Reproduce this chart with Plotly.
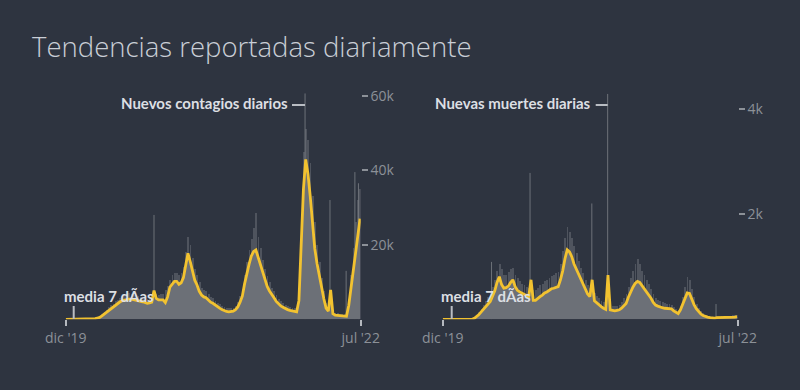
import plotly.graph_objects as go
import pandas as pd

# ---------------- data (weekly readings, Jan 2020 -> Jun 2022) ----------------
week_dates = pd.date_range("2020-01-01", periods=131, freq="7D")

# 7-day average of new cases (thousands)
cases_avg_k = [0]*11 + [
    0.05, 0.1, 0.2, 0.35, 0.5, 0.9, 1.4, 1.9, 2.4, 2.9,
    3.3, 3.8, 4.2, 4.7, 5.0, 5.2, 5.3, 5.4, 5.4, 5.3,
    5.2, 5.0, 4.9, 4.7, 4.5, 4.3, 4.4, 4.6, 7.7, 5.6,
    5.2, 5.3, 5.2, 4.5, 6.0, 8.6, 9.5, 10.2, 10.2, 9.4,
    9.8, 11.2, 14.5, 17.7, 15.5, 13.0, 10.5, 9.2, 7.5, 6.5,
    6.0, 5.8, 5.2, 4.6, 4.3, 3.8, 3.3, 3.0, 2.6, 2.3,
    2.1, 2.0, 2.0, 2.2, 2.6, 3.3, 4.6, 6.2, 9.5, 12.4,
    14.8, 17.0, 18.2, 18.6, 16.5, 14.6, 12.5, 10.3, 8.8, 7.6,
    6.5, 5.8, 4.8, 4.1, 3.6, 3.2, 2.8, 2.6, 2.4, 2.2,
    2.1, 2.0, 5.0, 20.0, 35.0, 42.9, 39.0, 33.0, 25.0, 19.0,
    15.0, 11.5, 8.0, 5.5, 3.0, 2.2, 7.9, 1.5, 1.1, 1.0,
    0.9, 0.8, 0.7, 0.8, 3.7, 8.4, 13.4, 18.3, 22.6, 27.0,
]
# upper edge of the daily case bars (thousands)
cases_daily_k = [0]*11 + [
    0.1, 0.2, 0.35, 0.6, 0.9, 1.4, 2.0, 2.6, 3.2, 3.8,
    4.2, 4.8, 5.3, 5.8, 6.2, 6.5, 6.8, 7.0, 6.9, 6.6,
    6.4, 6.3, 6.1, 5.9, 5.6, 5.4, 5.6, 6.0, 6.5, 6.7,
    6.6, 6.8, 6.9, 7.8, 9.0, 10.5, 11.8, 12.4, 12.5, 12.0,
    12.5, 14.0, 18.0, 22.0, 20.0, 16.5, 13.5, 12.0, 10.0, 8.5,
    7.8, 7.5, 6.8, 6.0, 5.6, 5.0, 4.5, 4.1, 3.6, 3.2,
    3.0, 2.9, 2.9, 3.1, 3.6, 4.6, 6.2, 8.2, 12.0, 15.5,
    18.5, 21.5, 24.5, 28.5, 22.0, 19.0, 16.0, 13.5, 11.5, 10.0,
    8.5, 7.6, 6.4, 5.5, 4.8, 4.3, 3.8, 3.5, 3.2, 3.0,
    2.9, 2.8, 8.0, 28.0, 45.0, 51.0, 48.0, 42.0, 33.0, 26.0,
    20.0, 15.5, 11.0, 7.5, 4.5, 3.0, 3.0, 2.2, 1.8, 1.6,
    1.5, 1.4, 1.3, 1.6, 5.5, 12.0, 19.0, 26.0, 32.0, 35.0,
]
case_spike_dates = ["2020-09-30", "2022-01-10", "2022-03-28", "2022-05-17", "2022-06-13", "2022-06-24"]
case_spike_values = [28000, 60600, 32000, 13000, 39500, 36500]

# 7-day average of new deaths
deaths_avg = [0]*14 + [
    20, 50, 90, 140, 190, 240, 290,
    340, 440, 540, 700, 810, 660, 590, 600, 630, 700,
    750, 620, 550, 520, 500, 470, 450, 430, 750, 360,
    360, 400, 430, 460, 500, 520, 550, 580, 590, 610,
    620, 750, 920, 1150, 1320, 1280, 1190, 1050, 950, 850,
    750, 660, 550, 480, 430, 750, 350, 310, 270, 240,
    210, 190, 840, 180, 170, 160, 170, 180, 210, 260,
    300, 420, 520, 610, 680, 720, 700, 640, 600, 530,
    480, 400, 320, 270, 250, 230, 220, 210, 210, 200,
    200, 160, 130, 110, 180, 290, 420, 500, 490, 380,
    280, 200, 140, 100, 70, 50, 40, 30, 20, 20,
    30, 30, 30, 30, 30, 30, 30, 40, 40, 50,
]
# upper edge of the daily death bars
deaths_daily = [0]*14 + [
    40, 80, 140, 200, 270, 340, 420,
    500, 620, 750, 920, 1050, 950, 850, 850, 900, 950,
    980, 850, 780, 720, 680, 650, 620, 600, 600, 550,
    550, 600, 650, 680, 720, 750, 780, 820, 850, 880,
    900, 1050, 1300, 1550, 1750, 1650, 1550, 1400, 1250, 1100,
    980, 880, 750, 660, 600, 550, 500, 450, 400, 350,
    320, 300, 280, 270, 260, 250, 260, 280, 320, 400,
    480, 620, 780, 920, 1050, 1150, 1050, 920, 850, 750,
    680, 580, 480, 400, 370, 340, 320, 310, 300, 290,
    280, 240, 200, 170, 250, 420, 620, 800, 750, 580,
    420, 300, 220, 160, 120, 90, 70, 60, 50, 50,
    60, 60, 60, 60, 60, 70, 70, 80, 80, 90,
]
death_spike_dates = ["2020-05-31", "2020-09-27", "2021-04-06", "2021-05-25", "2022-04-25"]
death_spike_values = [1090, 2780, 2200, 4280, 290]

x_ticks = ["2020-01-01", "2022-07-01"]
x_tick_text = ["dic '19", "jul '22"]
case_ticks = [20000, 40000, 60000]
case_tick_text = ["20k", "40k", "60k"]
death_ticks = [2000, 4000]
death_tick_text = ["2k", "4k"]

# ---------------- styling ----------------
BG = "#2e3440"
GRAY = "#6c7077"
GRAY_T = "rgba(112,116,123,0.5)"
YELLOW = "#f2c230"
TICK = "#8c9198"
LABEL = "#dcdfe3"
W, H = 800, 390


def px(x):
    return x / W


def py(y):
    return 1 - y / H


cases_avg = [v * 1000 for v in cases_avg_k]
cases_daily = [v * 1000 for v in cases_daily_k]
week_ms = 7 * 24 * 3600 * 1000

fig = go.Figure()


def add_panel(xa, ya, daily, avg, sd, sv):
    sx, sy = [], []
    for d, v in zip(sd, sv):
        sx += [d, d, None]
        sy += [0, v, None]
    fig.add_trace(go.Scatter(x=sx, y=sy, mode="lines", line=dict(color="rgba(120,124,131,0.85)", width=1),
                             xaxis=xa, yaxis=ya, hoverinfo="skip"))
    fig.add_trace(go.Bar(x=week_dates, y=daily, width=week_ms * 0.8, marker=dict(color=GRAY_T, line=dict(width=0)),
                         xaxis=xa, yaxis=ya, hoverinfo="skip"))
    fig.add_trace(go.Scatter(x=week_dates, y=avg, mode="lines", line=dict(width=0), fill="tozeroy",
                             fillcolor=GRAY, xaxis=xa, yaxis=ya, hoverinfo="skip"))
    fig.add_trace(go.Scatter(x=week_dates, y=avg, mode="lines", line=dict(color=YELLOW, width=2.8),
                             xaxis=xa, yaxis=ya, hoverinfo="skip"))


add_panel("x", "y", cases_daily, cases_avg, case_spike_dates, case_spike_values)
add_panel("x2", "y2", deaths_daily, deaths_avg, death_spike_dates, death_spike_values)

ydom = [py(319.3), py(88)]
tick_font = dict(family="Open Sans", size=14, color=TICK)
xaxis_common = dict(type="date", range=["2020-01-01", "2022-07-01"], tickvals=x_ticks, ticktext=x_tick_text,
                    ticks="outside", ticklen=6, tickwidth=1.5, tickcolor="#b5b9bf", showgrid=False,
                    zeroline=False, showline=False, tickfont=tick_font, fixedrange=True, automargin=False)
yaxis_common = dict(side="right", ticks="outside", ticklen=6, tickwidth=1.5, tickcolor=TICK, showgrid=False,
                    zeroline=False, showline=False, tickfont=tick_font, fixedrange=True, automargin=False)

fig.update_layout(
    template="none",
    width=W, height=H, autosize=False,
    margin=dict(l=0, r=0, t=0, b=0, pad=0, autoexpand=False),
    paper_bgcolor=BG, plot_bgcolor=BG,
    showlegend=False, barmode="overlay", bargap=0,
    xaxis=dict(domain=[px(65.7), px(360.7)], anchor="y", **xaxis_common),
    yaxis=dict(domain=ydom, anchor="x", range=[0, 62060], tickvals=case_ticks, ticktext=case_tick_text,
               **yaxis_common),
    xaxis2=dict(domain=[px(442.7), px(737.7)], anchor="y2", **xaxis_common),
    yaxis2=dict(domain=ydom, anchor="x2", range=[0, 4393], tickvals=death_ticks, ticktext=death_tick_text,
                **yaxis_common),
)

label_font = dict(family="Lato", size=15, color=LABEL, weight="bold")
annotations = [
    dict(text="Tendencias reportadas diariamente", x=px(30), y=py(46.7), xanchor="left", yanchor="middle",
         font=dict(family="Open Sans", size=27.5, color="#c9ced6", weight=300)),
    dict(text="Nuevos contagios diarios", x=px(290), y=py(103.3), xanchor="right", yanchor="middle", font=label_font),
    dict(text="Nuevas muertes diarias", x=px(593.3), y=py(103.3), xanchor="right", yanchor="middle", font=label_font),
    dict(text="media 7 dÃ\u00adas", x=px(62), y=py(296), xanchor="left", yanchor="middle", font=label_font),
    dict(text="media 7 dÃ\u00adas", x=px(439), y=py(296), xanchor="left", yanchor="middle", font=label_font),
]
for a in annotations:
    a.update(xref="paper", yref="paper", showarrow=False)
fig.update_layout(annotations=annotations)

shape_line = dict(color="#b9bdc3", width=2)
shapes = [
    dict(type="line", x0=px(292), x1=px(305), y0=py(105), y1=py(105)),
    dict(type="line", x0=px(595.7), x1=px(607.7), y0=py(105), y1=py(105)),
    dict(type="line", x0=px(73.7), x1=px(73.7), y0=py(306), y1=py(319)),
    dict(type="line", x0=px(451.7), x1=px(451.7), y0=py(306), y1=py(319)),
]
for s in shapes:
    s.update(xref="paper", yref="paper", line=shape_line)
fig.update_layout(shapes=shapes)

fix_page = (
    "document.body.style.margin='0';document.body.style.padding='0';"
    "document.body.style.overflow='hidden';"
    "document.body.style.background='" + BG + "';"
)
fig.write_html("out.html", config={"responsive": False, "displayModeBar": False}, post_script=fix_page)
